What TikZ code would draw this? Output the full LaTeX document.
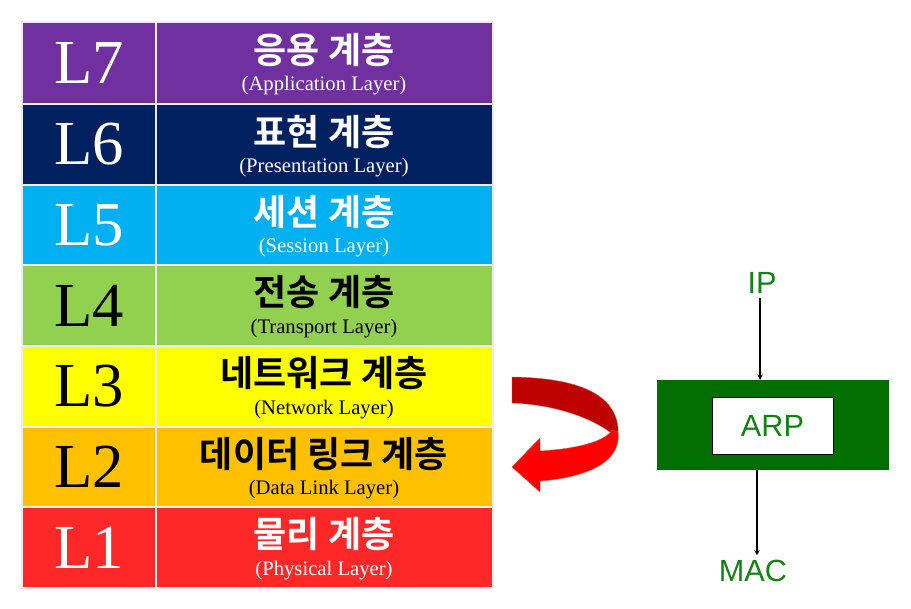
\documentclass[tikz,border=0pt]{standalone}
\usepackage{fontspec}
\setmainfont{Liberation Serif}
\newfontfamily\kr{Noto Sans CJK KR}[BoldFont={Noto Sans CJK KR Bold}]
\newfontfamily\sans{Liberation Sans}
\definecolor{c7}{RGB}{112,48,160}
\definecolor{c6}{RGB}{0,32,96}
\definecolor{c5}{RGB}{0,176,240}
\definecolor{c4}{RGB}{146,208,80}
\definecolor{c3}{RGB}{255,255,0}
\definecolor{c2}{RGB}{255,192,0}
\definecolor{c1}{RGB}{255,40,40}
\definecolor{grn}{RGB}{0,110,0}
\definecolor{txtg}{RGB}{20,130,20}
\begin{document}
\begin{tikzpicture}[x=0.75pt,y=-0.75pt,
 cell/.style={draw=white!85!gray,line width=1pt},
 lab/.style={font=\fontsize{47}{50}\selectfont},
 kor/.style={font=\kr\bfseries\fontsize{27}{30}\selectfont},
 eng/.style={font=\fontsize{15.5}{17}\selectfont},
 rt/.style={font=\sans\fontsize{23}{26}\selectfont,text=txtg}]
\useasboundingbox (0,0) rectangle (911,608);
\def\ys{{22,104,185,265,346,427,507,588}}
\foreach \i/\c/\t/\k/\e in {0/c7/white/응용 계층/Application Layer,1/c6/white/표현 계층/Presentation Layer,2/c5/white/세션 계층/Session Layer,3/c4/black/전송 계층/Transport Layer,4/c3/black/네트워크 계층/Network Layer,5/c2/black/데이터 링크 계층/Data Link Layer,6/c1/white/물리 계층/Physical Layer}{
 \pgfmathsetmacro\ya{\ys[\i]}\pgfmathsetmacro\yb{\ys[\i+1]}
 \pgfmathtruncatemacro\num{7-\i}
 \fill[\c] (22,\ya) rectangle (493,\yb);
 \draw[cell] (22,\ya) rectangle (156,\yb);
 \draw[cell] (156,\ya) rectangle (493,\yb);
 \node[lab,text=\t] (L\num) at (89,{(\ya+\yb)/2}) {L\num};
 \node[kor,text=\t] (K\num) at (324,{(\ya+\yb)/2-13}) {\k};
 \node[eng,text=\t] (E\num) at (324,{(\ya+\yb)/2+23}) {(\e)};
}
% arrow
\fill[red!75!black,draw=brown!70!red,line width=0.3pt] (512,377) .. controls (580,378) and (615,395) .. (618,428) -- (618,440) .. controls (610,428) and (570,405) .. (512,403) -- cycle;
\fill[red,draw=brown!70!red,line width=0.3pt] (618,432) .. controls (622,465) and (580,478) .. (540,481) -- (540,492) -- (512,467) -- (540,438) -- (540,451) .. controls (575,449) and (605,442) .. (612,430) -- cycle;
% ARP
\fill[grn] (657,380) rectangle (889,470);
\node[draw=black,fill=white,minimum width=91pt,minimum height=43pt,inner sep=0pt,rt] (arp) at (772.5,425.5) {ARP};
\node[rt] (ip) at (762,283) {IP};
\node[rt] (mac) at (753,571) {MAC};
\coordinate (gt) at (760,380);
\coordinate (gb) at (757,470);
\draw[-stealth,line width=0.8pt] (gt |- ip.south) -- (gt);
\draw[-stealth,line width=0.8pt] (gb) -- (gb |- mac.north);
\end{tikzpicture}
\end{document}
